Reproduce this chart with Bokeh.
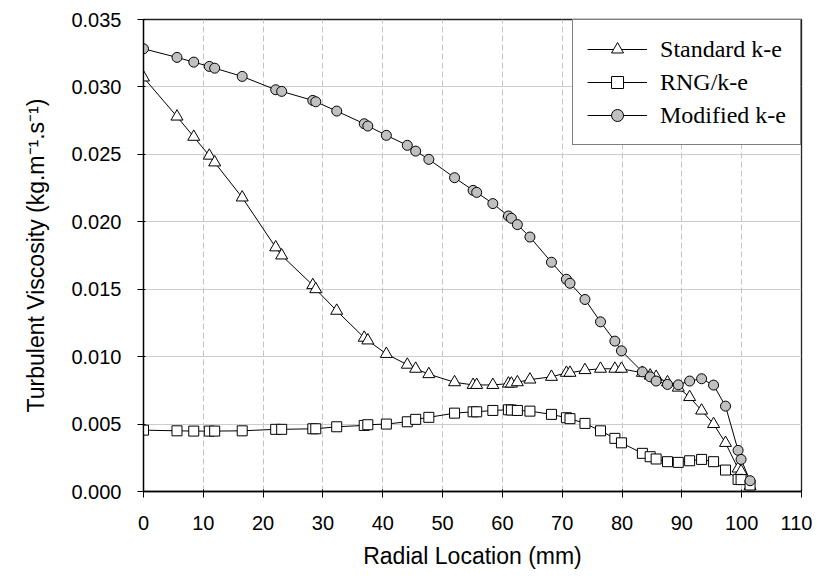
from bokeh.plotting import figure
from bokeh.models import Legend, LegendItem, NumeralTickFormatter, FixedTicker
from bokeh.embed import file_html
from bokeh.resources import INLINE

radial_mm = [0, 5.6, 8.4, 11.0, 11.9, 16.5, 22.1, 23.1, 28.3, 28.8, 32.3, 36.9, 37.5,
             40.6, 44.1, 45.5, 47.7, 52.0, 55.1, 55.7, 58.4, 61.0, 61.5, 62.5, 64.6,
             68.2, 70.7, 71.3, 73.8, 76.4, 78.8, 79.9, 83.4, 84.7, 85.7, 87.6, 89.4,
             91.3, 93.3, 95.3, 97.3, 99.4, 99.9, 101.4]

standard_ke = [0.0307, 0.0278, 0.0263, 0.0249, 0.0244, 0.0218, 0.0181, 0.0175, 0.0153,
               0.0150, 0.0134, 0.0114, 0.0112, 0.0102, 0.0094, 0.0091, 0.0087, 0.0081,
               0.0079, 0.0079, 0.0079, 0.0080, 0.0080, 0.0081, 0.0083, 0.0085, 0.0088,
               0.0088, 0.0090, 0.0091, 0.0091, 0.0091, 0.0088, 0.0086, 0.0085, 0.0081,
               0.0077, 0.0070, 0.0060, 0.0050, 0.0036, 0.0017, 0.0015, 0.0004]

rng_ke = [0.00455, 0.00450, 0.00448, 0.00448, 0.00448, 0.00450, 0.00461, 0.00461, 0.00465,
          0.00465, 0.00480, 0.00490, 0.00495, 0.00500, 0.00517, 0.00535, 0.00550, 0.00581,
          0.00591, 0.00591, 0.00601, 0.00606, 0.00604, 0.00601, 0.00596, 0.00572, 0.00547,
          0.00540, 0.00505, 0.00450, 0.00394, 0.00361, 0.00283, 0.00258, 0.00241, 0.00221,
          0.00216, 0.00228, 0.00238, 0.00221, 0.00159, 0.00090, 0.00088, 0.00048]

modified_ke = [0.03283, 0.03219, 0.03184, 0.03152, 0.03139, 0.03078, 0.02979, 0.02967,
               0.02900, 0.02890, 0.02821, 0.02727, 0.02710, 0.02641, 0.02567, 0.02524,
               0.02463, 0.02327, 0.02233, 0.02218, 0.02135, 0.02043, 0.02026, 0.01979,
               0.01887, 0.01700, 0.01574, 0.01544, 0.01424, 0.01258, 0.01115, 0.01043,
               0.00887, 0.00850, 0.00819, 0.00794, 0.00791, 0.00819, 0.00836, 0.00789,
               0.00633, 0.00305, 0.00238, 0.00080]

x_ticks = [0, 10, 20, 30, 40, 50, 60, 70, 80, 90, 100, 110]
y_ticks = [0.000, 0.005, 0.010, 0.015, 0.020, 0.025, 0.030, 0.035]

p = figure(width=812, height=575, x_range=(0, 110), y_range=(0, 0.035),
           output_backend="svg", toolbar_location=None,
           min_border_left=143, min_border_right=11, min_border_top=19, min_border_bottom=10)
p.frame_width = 658
p.frame_height = 472

p.xaxis.ticker = FixedTicker(ticks=x_ticks)
p.yaxis.ticker = FixedTicker(ticks=y_ticks)
p.yaxis.formatter = NumeralTickFormatter(format="0.000")

for ax in (p.xaxis[0], p.yaxis[0]):
    ax.axis_line_color = "black"
    ax.axis_line_width = 1.3
    ax.major_tick_line_color = "black"
    ax.major_tick_out = 6
    ax.major_tick_in = 2
    ax.minor_tick_line_color = None
    ax.major_label_text_font = "Liberation Sans"
    ax.major_label_text_font_size = "20px"
    ax.major_label_text_color = "black"
    ax.axis_label_text_font = "Liberation Sans"
    ax.axis_label_text_font_size = "23px"
    ax.axis_label_text_font_style = "normal"
    ax.axis_label_text_color = "black"

p.xaxis.axis_label = "Radial Location (mm)"
p.yaxis.axis_label = "Turbulent Viscosity (kg.m\u207b\u00b9.s\u207b\u00b9)"
p.xaxis.major_label_standoff = 18
p.yaxis.major_label_standoff = 16
p.xaxis.axis_label_standoff = 10
p.yaxis.axis_label_standoff = 19

p.xgrid.grid_line_color = "#c4c4c4"
p.xgrid.grid_line_dash = "6 3"
p.xgrid.grid_line_width = 1
p.ygrid.grid_line_color = "#cccccc"
p.ygrid.grid_line_width = 1

p.outline_line_color = "#222222"
p.outline_line_width = 1.3

l1 = p.line(radial_mm, standard_ke, line_color="black", line_width=1)
m1 = p.scatter(radial_mm, standard_ke, marker="triangle", size=12,
               fill_color="white", line_color="black", line_width=1)
l2 = p.line(radial_mm, rng_ke, line_color="black", line_width=1)
m2 = p.scatter(radial_mm, rng_ke, marker="square", size=10,
               fill_color="white", line_color="black", line_width=1)
l3 = p.line(radial_mm, modified_ke, line_color="black", line_width=1)
m3 = p.scatter(radial_mm, modified_ke, marker="circle", size=10,
               fill_color="#c0c0c0", line_color="black", line_width=1)

legend = Legend(items=[
    LegendItem(label="Standard k-e", renderers=[l1, m1]),
    LegendItem(label="RNG/k-e", renderers=[l2, m2]),
    LegendItem(label="Modified k-e", renderers=[l3, m3]),
], location="top_right")
legend.margin = 0
legend.padding = 14
legend.spacing = 3
legend.glyph_width = 60
legend.glyph_height = 30
legend.label_height = 30
legend.label_standoff = 13
legend.label_text_font = "Liberation Serif"
legend.label_text_font_size = "24px"
legend.label_text_color = "black"
legend.border_line_color = "black"
legend.border_line_width = 1.3
legend.background_fill_color = "white"
legend.background_fill_alpha = 1
p.add_layout(legend)

open("out.html", "w").write(file_html(p, INLINE))
